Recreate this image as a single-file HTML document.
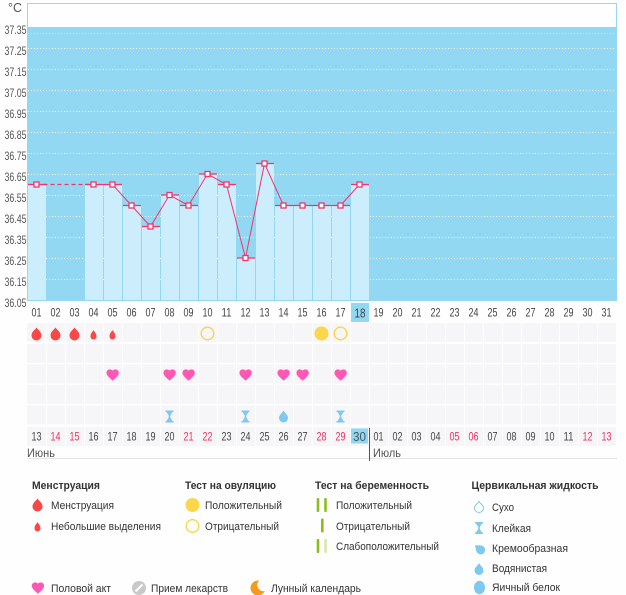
<!DOCTYPE html>
<html><head><meta charset="utf-8">
<style>
html,body{margin:0;padding:0;background:#fff;}
svg{display:block;font-family:"Liberation Sans","DejaVu Sans",sans-serif;}
</style></head>
<body>
<svg width="626" height="595" viewBox="0 0 626 595" xmlns="http://www.w3.org/2000/svg">
<rect x="0" y="0" width="626" height="595" fill="#fdfefd"/>
<!-- plot frame -->
<rect x="27.5" y="3.5" width="589" height="297" fill="#fdfefd" stroke="#92d8f2" stroke-width="1"/>
<rect x="27" y="27" width="590" height="273" fill="#92d8f2"/>
<line x1="28" y1="33.5" x2="616" y2="33.5" stroke="#b6e5f7" stroke-width="1" stroke-dasharray="1 2"/>
<g stroke="#ffffff" stroke-width="1" stroke-dasharray="1 2">
<line x1="28" y1="48.5" x2="616" y2="48.5"/>
<line x1="28" y1="69.5" x2="616" y2="69.5"/>
<line x1="28" y1="90.5" x2="616" y2="90.5"/>
<line x1="28" y1="111.5" x2="616" y2="111.5"/>
<line x1="28" y1="132.5" x2="616" y2="132.5"/>
<line x1="28" y1="153.5" x2="616" y2="153.5"/>
<line x1="28" y1="174.5" x2="616" y2="174.5"/>
<line x1="28" y1="195.5" x2="616" y2="195.5"/>
<line x1="28" y1="216.5" x2="616" y2="216.5"/>
<line x1="28" y1="237.5" x2="616" y2="237.5"/>
<line x1="28" y1="258.5" x2="616" y2="258.5"/>
<line x1="28" y1="279.5" x2="616" y2="279.5"/>
</g>
<!-- y labels -->
<g font-size="12" fill="#555" text-anchor="end">
<text x="8" y="12" text-anchor="start" font-size="12.5">°C</text>
<text x="26.5" y="34" textLength="22" lengthAdjust="spacingAndGlyphs">37.35</text>
<text x="26.5" y="55" textLength="22" lengthAdjust="spacingAndGlyphs">37.25</text>
<text x="26.5" y="76" textLength="22" lengthAdjust="spacingAndGlyphs">37.15</text>
<text x="26.5" y="97" textLength="22" lengthAdjust="spacingAndGlyphs">37.05</text>
<text x="26.5" y="118" textLength="22" lengthAdjust="spacingAndGlyphs">36.95</text>
<text x="26.5" y="139" textLength="22" lengthAdjust="spacingAndGlyphs">36.85</text>
<text x="26.5" y="160" textLength="22" lengthAdjust="spacingAndGlyphs">36.75</text>
<text x="26.5" y="181" textLength="22" lengthAdjust="spacingAndGlyphs">36.65</text>
<text x="26.5" y="202" textLength="22" lengthAdjust="spacingAndGlyphs">36.55</text>
<text x="26.5" y="223" textLength="22" lengthAdjust="spacingAndGlyphs">36.45</text>
<text x="26.5" y="244" textLength="22" lengthAdjust="spacingAndGlyphs">36.35</text>
<text x="26.5" y="265" textLength="22" lengthAdjust="spacingAndGlyphs">36.25</text>
<text x="26.5" y="286" textLength="22" lengthAdjust="spacingAndGlyphs">36.15</text>
<text x="26.5" y="307" textLength="22" lengthAdjust="spacingAndGlyphs">36.05</text>
</g>
<!-- bars -->
<g fill="#ccedfb">
<rect x="28" y="184.5" width="18" height="115.5"/>
<rect x="85" y="184.5" width="18" height="115.5"/>
<rect x="104" y="184.5" width="18" height="115.5"/>
<rect x="123" y="205.5" width="18" height="94.5"/>
<rect x="142" y="226.5" width="18" height="73.5"/>
<rect x="161" y="195" width="18" height="105"/>
<rect x="180" y="205.5" width="18" height="94.5"/>
<rect x="199" y="174" width="18" height="126"/>
<rect x="218" y="184.5" width="18" height="115.5"/>
<rect x="237" y="258" width="18" height="42"/>
<rect x="256" y="163.5" width="18" height="136.5"/>
<rect x="275" y="205.5" width="18" height="94.5"/>
<rect x="294" y="205.5" width="18" height="94.5"/>
<rect x="313" y="205.5" width="18" height="94.5"/>
<rect x="332" y="205.5" width="18" height="94.5"/>
<rect x="351" y="184.5" width="18" height="115.5"/>
</g>
<!-- bar tops -->
<g stroke="#f5336b" stroke-width="1.3">
<line x1="28" y1="184.5" x2="46" y2="184.5"/>
<line x1="85" y1="184.5" x2="103" y2="184.5"/>
<line x1="104" y1="184.5" x2="122" y2="184.5"/>
<line x1="123" y1="205.5" x2="141" y2="205.5"/>
<line x1="142" y1="226.5" x2="160" y2="226.5"/>
<line x1="161" y1="195" x2="179" y2="195"/>
<line x1="180" y1="205.5" x2="198" y2="205.5"/>
<line x1="199" y1="174" x2="217" y2="174"/>
<line x1="218" y1="184.5" x2="236" y2="184.5"/>
<line x1="237" y1="258" x2="255" y2="258"/>
<line x1="256" y1="163.5" x2="274" y2="163.5"/>
<line x1="275" y1="205.5" x2="293" y2="205.5"/>
<line x1="294" y1="205.5" x2="312" y2="205.5"/>
<line x1="313" y1="205.5" x2="331" y2="205.5"/>
<line x1="332" y1="205.5" x2="350" y2="205.5"/>
<line x1="351" y1="184.5" x2="369" y2="184.5"/>
</g>
<line x1="36.5" y1="184.5" x2="93.5" y2="184.5" stroke="#f5336b" stroke-width="1.3" stroke-dasharray="4 3"/>
<polyline fill="none" stroke="#f5336b" stroke-width="1" points="93.5,184.5 112.5,184.5 131.5,205.5 150.5,226.5 169.5,195 188.5,205.5 207.5,174 226.5,184.5 245.5,258 264.5,163.5 283.5,205.5 302.5,205.5 321.5,205.5 340.5,205.5 359.5,184.5"/>
<g fill="#fff" stroke="#f5336b" stroke-width="1.3">
<rect x="34" y="182" width="5" height="5"/>
<rect x="91" y="182" width="5" height="5"/>
<rect x="110" y="182" width="5" height="5"/>
<rect x="129" y="203" width="5" height="5"/>
<rect x="148" y="224" width="5" height="5"/>
<rect x="167" y="192.5" width="5" height="5"/>
<rect x="186" y="203" width="5" height="5"/>
<rect x="205" y="171.5" width="5" height="5"/>
<rect x="224" y="182" width="5" height="5"/>
<rect x="243" y="255.5" width="5" height="5"/>
<rect x="262" y="161" width="5" height="5"/>
<rect x="281" y="203" width="5" height="5"/>
<rect x="300" y="203" width="5" height="5"/>
<rect x="319" y="203" width="5" height="5"/>
<rect x="338" y="203" width="5" height="5"/>
<rect x="357" y="182" width="5" height="5"/>
</g>
<!-- x labels row -->
<rect x="27" y="301" width="590" height="21" fill="#fdfefd"/>
<rect x="351" y="303" width="18" height="19" fill="#92d8f2"/>
<g font-size="11.5" fill="#444" text-anchor="middle">
<text x="36.5" y="316.5" textLength="10" lengthAdjust="spacingAndGlyphs">01</text>
<text x="55.5" y="316.5" textLength="10" lengthAdjust="spacingAndGlyphs">02</text>
<text x="74.5" y="316.5" textLength="10" lengthAdjust="spacingAndGlyphs">03</text>
<text x="93.5" y="316.5" textLength="10" lengthAdjust="spacingAndGlyphs">04</text>
<text x="112.5" y="316.5" textLength="10" lengthAdjust="spacingAndGlyphs">05</text>
<text x="131.5" y="316.5" textLength="10" lengthAdjust="spacingAndGlyphs">06</text>
<text x="150.5" y="316.5" textLength="10" lengthAdjust="spacingAndGlyphs">07</text>
<text x="169.5" y="316.5" textLength="10" lengthAdjust="spacingAndGlyphs">08</text>
<text x="188.5" y="316.5" textLength="10" lengthAdjust="spacingAndGlyphs">09</text>
<text x="207.5" y="316.5" textLength="10" lengthAdjust="spacingAndGlyphs">10</text>
<text x="226.5" y="316.5" textLength="10" lengthAdjust="spacingAndGlyphs">11</text>
<text x="245.5" y="316.5" textLength="10" lengthAdjust="spacingAndGlyphs">12</text>
<text x="264.5" y="316.5" textLength="10" lengthAdjust="spacingAndGlyphs">13</text>
<text x="283.5" y="316.5" textLength="10" lengthAdjust="spacingAndGlyphs">14</text>
<text x="302.5" y="316.5" textLength="10" lengthAdjust="spacingAndGlyphs">15</text>
<text x="321.5" y="316.5" textLength="10" lengthAdjust="spacingAndGlyphs">16</text>
<text x="340.5" y="316.5" textLength="10" lengthAdjust="spacingAndGlyphs">17</text>
<text x="360" y="317.5" font-size="12.5" textLength="11" lengthAdjust="spacingAndGlyphs">18</text>
<text x="378.5" y="316.5" textLength="10" lengthAdjust="spacingAndGlyphs">19</text>
<text x="397.5" y="316.5" textLength="10" lengthAdjust="spacingAndGlyphs">20</text>
<text x="416.5" y="316.5" textLength="10" lengthAdjust="spacingAndGlyphs">21</text>
<text x="435.5" y="316.5" textLength="10" lengthAdjust="spacingAndGlyphs">22</text>
<text x="454.5" y="316.5" textLength="10" lengthAdjust="spacingAndGlyphs">23</text>
<text x="473.5" y="316.5" textLength="10" lengthAdjust="spacingAndGlyphs">24</text>
<text x="492.5" y="316.5" textLength="10" lengthAdjust="spacingAndGlyphs">25</text>
<text x="511.5" y="316.5" textLength="10" lengthAdjust="spacingAndGlyphs">26</text>
<text x="530.5" y="316.5" textLength="10" lengthAdjust="spacingAndGlyphs">27</text>
<text x="549.5" y="316.5" textLength="10" lengthAdjust="spacingAndGlyphs">28</text>
<text x="568.5" y="316.5" textLength="10" lengthAdjust="spacingAndGlyphs">29</text>
<text x="587.5" y="316.5" textLength="10" lengthAdjust="spacingAndGlyphs">30</text>
<text x="606.5" y="316.5" textLength="10" lengthAdjust="spacingAndGlyphs">31</text>
</g>
<!-- icon grid cells -->
<defs>
<g id="cellrow">
<rect x="27" y="0" width="19" height="19"/><rect x="47" y="0" width="18" height="19"/><rect x="66" y="0" width="18" height="19"/><rect x="85" y="0" width="18" height="19"/><rect x="104" y="0" width="18" height="19"/><rect x="123" y="0" width="18" height="19"/><rect x="142" y="0" width="18" height="19"/><rect x="161" y="0" width="18" height="19"/><rect x="180" y="0" width="18" height="19"/><rect x="199" y="0" width="18" height="19"/><rect x="218" y="0" width="18" height="19"/><rect x="237" y="0" width="18" height="19"/><rect x="256" y="0" width="18" height="19"/><rect x="275" y="0" width="18" height="19"/><rect x="294" y="0" width="18" height="19"/><rect x="313" y="0" width="18" height="19"/><rect x="332" y="0" width="18" height="19"/><rect x="351" y="0" width="18" height="19"/><rect x="370" y="0" width="18" height="19"/><rect x="389" y="0" width="18" height="19"/><rect x="408" y="0" width="18" height="19"/><rect x="427" y="0" width="18" height="19"/><rect x="446" y="0" width="18" height="19"/><rect x="465" y="0" width="18" height="19"/><rect x="484" y="0" width="18" height="19"/><rect x="503" y="0" width="18" height="19"/><rect x="522" y="0" width="18" height="19"/><rect x="541" y="0" width="18" height="19"/><rect x="560" y="0" width="18" height="19"/><rect x="579" y="0" width="18" height="19"/><rect x="598" y="0" width="18" height="19"/>
</g>
<path id="heart" d="M12 21.35l-1.45-1.32C5.4 15.36 2 12.28 2 8.5 2 5.42 4.42 3 7.5 3c1.74 0 3.41.81 4.5 2.09C13.09 3.81 14.76 3 16.5 3 19.58 3 22 5.42 22 8.5c0 3.78-3.4 6.86-8.55 11.54L12 21.35z"/>
<path id="dropL" d="M0 -6.5 C1 -4.5 5 -2.5 5 1.5 A5 5 0 0 1 -5 1.5 C-5 -2.5 -1 -4.5 0 -6.5 Z"/>
<path id="dropS" d="M0 -5 C0.6 -3.5 3 -2 3 1.5 A3 3 0 0 1 -3 1.5 C-3 -2 -0.6 -3.5 0 -5 Z"/>
<path id="hour" d="M-4 -6 H4 V-4.5 H3 L0.8 -1 V1 L3 4.5 H4 V6 H-4 V4.5 H-3 L-0.8 1 V-1 L-3 -4.5 H-4 Z"/>
<path id="dropW" d="M0 -6 C0.8 -4 4.5 -1.5 4.5 1.5 A4.5 4.5 0 0 1 -4.5 1.5 C-4.5 -1.5 -0.8 -4 0 -6 Z"/>
<mask id="moonmask" maskUnits="userSpaceOnUse" x="240" y="570" width="40" height="30">
<rect x="240" y="570" width="40" height="30" fill="#fff"/>
<circle cx="263.5" cy="585" r="6.2" fill="#000"/>
</mask>
</defs>
<g fill="#f6f5f7">
<use href="#cellrow" y="323"/>
<use href="#cellrow" y="344"/>
<use href="#cellrow" y="364.5"/>
<use href="#cellrow" y="385"/>
<use href="#cellrow" y="405.5"/>
<use href="#cellrow" y="427"/>
</g>
<!-- row1 menstruation -->
<g fill="#f84848">
<use href="#dropL" x="36.5" y="334"/>
<use href="#dropL" x="55.5" y="334"/>
<use href="#dropL" x="74.5" y="334"/>
<use href="#dropS" x="93.5" y="335"/>
<use href="#dropS" x="112.5" y="335"/>
</g>
<!-- ovulation -->
<circle cx="207.5" cy="333.5" r="6.3" fill="none" stroke="#fcd43f" stroke-width="1.3"/>
<circle cx="321.5" cy="333.5" r="7" fill="#fdd74a"/>
<circle cx="340.5" cy="333.5" r="6.3" fill="none" stroke="#fcd43f" stroke-width="1.3"/>
<!-- hearts -->
<g fill="#ff58b4">
<use href="#heart" transform="translate(105.2,367.5) scale(0.62)"/>
<use href="#heart" transform="translate(162.2,367.5) scale(0.62)"/>
<use href="#heart" transform="translate(181.2,367.5) scale(0.62)"/>
<use href="#heart" transform="translate(238.2,367.5) scale(0.62)"/>
<use href="#heart" transform="translate(276.2,367.5) scale(0.62)"/>
<use href="#heart" transform="translate(295.2,367.5) scale(0.62)"/>
<use href="#heart" transform="translate(333.2,367.5) scale(0.62)"/>
</g>
<!-- cervical row -->
<g fill="#7fc8ef">
<use href="#hour" x="169.5" y="416.5"/>
<use href="#hour" x="245.5" y="416.5"/>
<use href="#dropW" x="283.5" y="416.5"/>
<use href="#hour" x="340.5" y="416.5"/>
</g>
<!-- date row -->
<rect x="351" y="428.5" width="17" height="15" fill="#92d8f2"/>
<g font-size="11.5" fill="#444" text-anchor="middle">
<text x="36.5" y="440.5" textLength="10" lengthAdjust="spacingAndGlyphs">13</text>
<text x="55.5" y="440.5" fill="#f0305f" textLength="10" lengthAdjust="spacingAndGlyphs">14</text>
<text x="74.5" y="440.5" fill="#f0305f" textLength="10" lengthAdjust="spacingAndGlyphs">15</text>
<text x="93.5" y="440.5" textLength="10" lengthAdjust="spacingAndGlyphs">16</text>
<text x="112.5" y="440.5" textLength="10" lengthAdjust="spacingAndGlyphs">17</text>
<text x="131.5" y="440.5" textLength="10" lengthAdjust="spacingAndGlyphs">18</text>
<text x="150.5" y="440.5" textLength="10" lengthAdjust="spacingAndGlyphs">19</text>
<text x="169.5" y="440.5" textLength="10" lengthAdjust="spacingAndGlyphs">20</text>
<text x="188.5" y="440.5" fill="#f0305f" textLength="10" lengthAdjust="spacingAndGlyphs">21</text>
<text x="207.5" y="440.5" fill="#f0305f" textLength="10" lengthAdjust="spacingAndGlyphs">22</text>
<text x="226.5" y="440.5" textLength="10" lengthAdjust="spacingAndGlyphs">23</text>
<text x="245.5" y="440.5" textLength="10" lengthAdjust="spacingAndGlyphs">24</text>
<text x="264.5" y="440.5" textLength="10" lengthAdjust="spacingAndGlyphs">25</text>
<text x="283.5" y="440.5" textLength="10" lengthAdjust="spacingAndGlyphs">26</text>
<text x="302.5" y="440.5" textLength="10" lengthAdjust="spacingAndGlyphs">27</text>
<text x="321.5" y="440.5" fill="#f0305f" textLength="10" lengthAdjust="spacingAndGlyphs">28</text>
<text x="340.5" y="440.5" fill="#f0305f" textLength="10" lengthAdjust="spacingAndGlyphs">29</text>
<text x="359.5" y="441" font-size="13" fill="#4a5560" textLength="13" lengthAdjust="spacingAndGlyphs">30</text>
<text x="378.5" y="440.5" textLength="10" lengthAdjust="spacingAndGlyphs">01</text>
<text x="397.5" y="440.5" textLength="10" lengthAdjust="spacingAndGlyphs">02</text>
<text x="416.5" y="440.5" textLength="10" lengthAdjust="spacingAndGlyphs">03</text>
<text x="435.5" y="440.5" textLength="10" lengthAdjust="spacingAndGlyphs">04</text>
<text x="454.5" y="440.5" fill="#f0305f" textLength="10" lengthAdjust="spacingAndGlyphs">05</text>
<text x="473.5" y="440.5" fill="#f0305f" textLength="10" lengthAdjust="spacingAndGlyphs">06</text>
<text x="492.5" y="440.5" textLength="10" lengthAdjust="spacingAndGlyphs">07</text>
<text x="511.5" y="440.5" textLength="10" lengthAdjust="spacingAndGlyphs">08</text>
<text x="530.5" y="440.5" textLength="10" lengthAdjust="spacingAndGlyphs">09</text>
<text x="549.5" y="440.5" textLength="10" lengthAdjust="spacingAndGlyphs">10</text>
<text x="568.5" y="440.5" textLength="10" lengthAdjust="spacingAndGlyphs">11</text>
<text x="587.5" y="440.5" fill="#f0305f" textLength="10" lengthAdjust="spacingAndGlyphs">12</text>
<text x="606.5" y="440.5" fill="#f0305f" textLength="10" lengthAdjust="spacingAndGlyphs">13</text>
</g>
<line x1="27" y1="458.5" x2="617" y2="458.5" stroke="#e4e6e4" stroke-width="1"/>
<line x1="369.5" y1="428" x2="369.5" y2="461" stroke="#555" stroke-width="1"/>
<text x="27" y="457" font-size="12" fill="#555" textLength="28" lengthAdjust="spacingAndGlyphs">Июнь</text>
<text x="373" y="457" font-size="12" fill="#555" textLength="28" lengthAdjust="spacingAndGlyphs">Июль</text>

<!-- Legend -->
<g font-size="11" font-weight="bold" fill="#333">
<text x="32" y="489" textLength="68" lengthAdjust="spacingAndGlyphs">Менструация</text>
<text x="185" y="489" textLength="91" lengthAdjust="spacingAndGlyphs">Тест на овуляцию</text>
<text x="315" y="489" textLength="114" lengthAdjust="spacingAndGlyphs">Тест на беременность</text>
<text x="471.5" y="489" textLength="127" lengthAdjust="spacingAndGlyphs">Цервикальная жидкость</text>
</g>
<g font-size="11" fill="#333">
<text x="51" y="509" textLength="63" lengthAdjust="spacingAndGlyphs">Менструация</text>
<text x="51" y="530" textLength="110" lengthAdjust="spacingAndGlyphs">Небольшие выделения</text>
<text x="205" y="509" textLength="77" lengthAdjust="spacingAndGlyphs">Положительный</text>
<text x="205" y="530" textLength="74" lengthAdjust="spacingAndGlyphs">Отрицательный</text>
<text x="336" y="509" textLength="76" lengthAdjust="spacingAndGlyphs">Положительный</text>
<text x="336" y="530" textLength="74" lengthAdjust="spacingAndGlyphs">Отрицательный</text>
<text x="336" y="550" textLength="103" lengthAdjust="spacingAndGlyphs">Слабоположительный</text>
<text x="492" y="511" textLength="22" lengthAdjust="spacingAndGlyphs">Сухо</text>
<text x="492" y="532" textLength="39" lengthAdjust="spacingAndGlyphs">Клейкая</text>
<text x="492" y="552" textLength="76" lengthAdjust="spacingAndGlyphs">Кремообразная</text>
<text x="492" y="572" textLength="55" lengthAdjust="spacingAndGlyphs">Водянистая</text>
<text x="492" y="591" textLength="68" lengthAdjust="spacingAndGlyphs">Яичный белок</text>
<text x="51" y="592" textLength="60" lengthAdjust="spacingAndGlyphs">Половой акт</text>
<text x="151" y="592" textLength="77" lengthAdjust="spacingAndGlyphs">Прием лекарств</text>
<text x="271" y="592" textLength="90" lengthAdjust="spacingAndGlyphs">Лунный календарь</text>
</g>
<!-- legend icons -->
<g fill="#f84848">
<use href="#dropL" x="37.5" y="505"/>
<use href="#dropS" x="37.5" y="527"/>
</g>
<circle cx="192.5" cy="505" r="7" fill="#fdd74a"/>
<circle cx="192.5" cy="526" r="6.3" fill="none" stroke="#fcd43f" stroke-width="1.3"/>
<g fill="#8cbd1d">
<rect x="316.7" y="498" width="2.6" height="14" rx="1"/>
<rect x="324.2" y="498" width="2.6" height="14" rx="1"/>
<rect x="321" y="518.5" width="2.6" height="14" rx="1"/>
<rect x="316.7" y="539" width="2.6" height="14" rx="1"/>
</g>
<rect x="324.2" y="539" width="2.6" height="14" rx="1" fill="#d6e8ae"/>
<path d="M479 501.5 C479.6 503 483.5 505 483.5 508 A4.5 4.5 0 0 1 474.5 508 C474.5 505 478.4 503 479 501.5 Z" fill="none" stroke="#7fc8ef" stroke-width="1"/>
<g fill="#7fc8ef">
<use href="#hour" x="479" y="528"/>
<use href="#dropW" transform="translate(479.5,549) rotate(-50)"/>
<use href="#dropW" x="479" y="569"/>
<ellipse cx="479.5" cy="587.5" rx="5.5" ry="6.8"/>
</g>
<use href="#heart" fill="#ff58b4" transform="translate(30.5,580.5) scale(0.62)"/>
<circle cx="139" cy="588" r="7" fill="#c9c9c9"/>
<line x1="135.5" y1="591.5" x2="142.5" y2="584.5" stroke="#fff" stroke-width="2"/>
<circle cx="258" cy="588" r="7.5" fill="#f59b1c" mask="url(#moonmask)"/>
</svg>
</body></html>
